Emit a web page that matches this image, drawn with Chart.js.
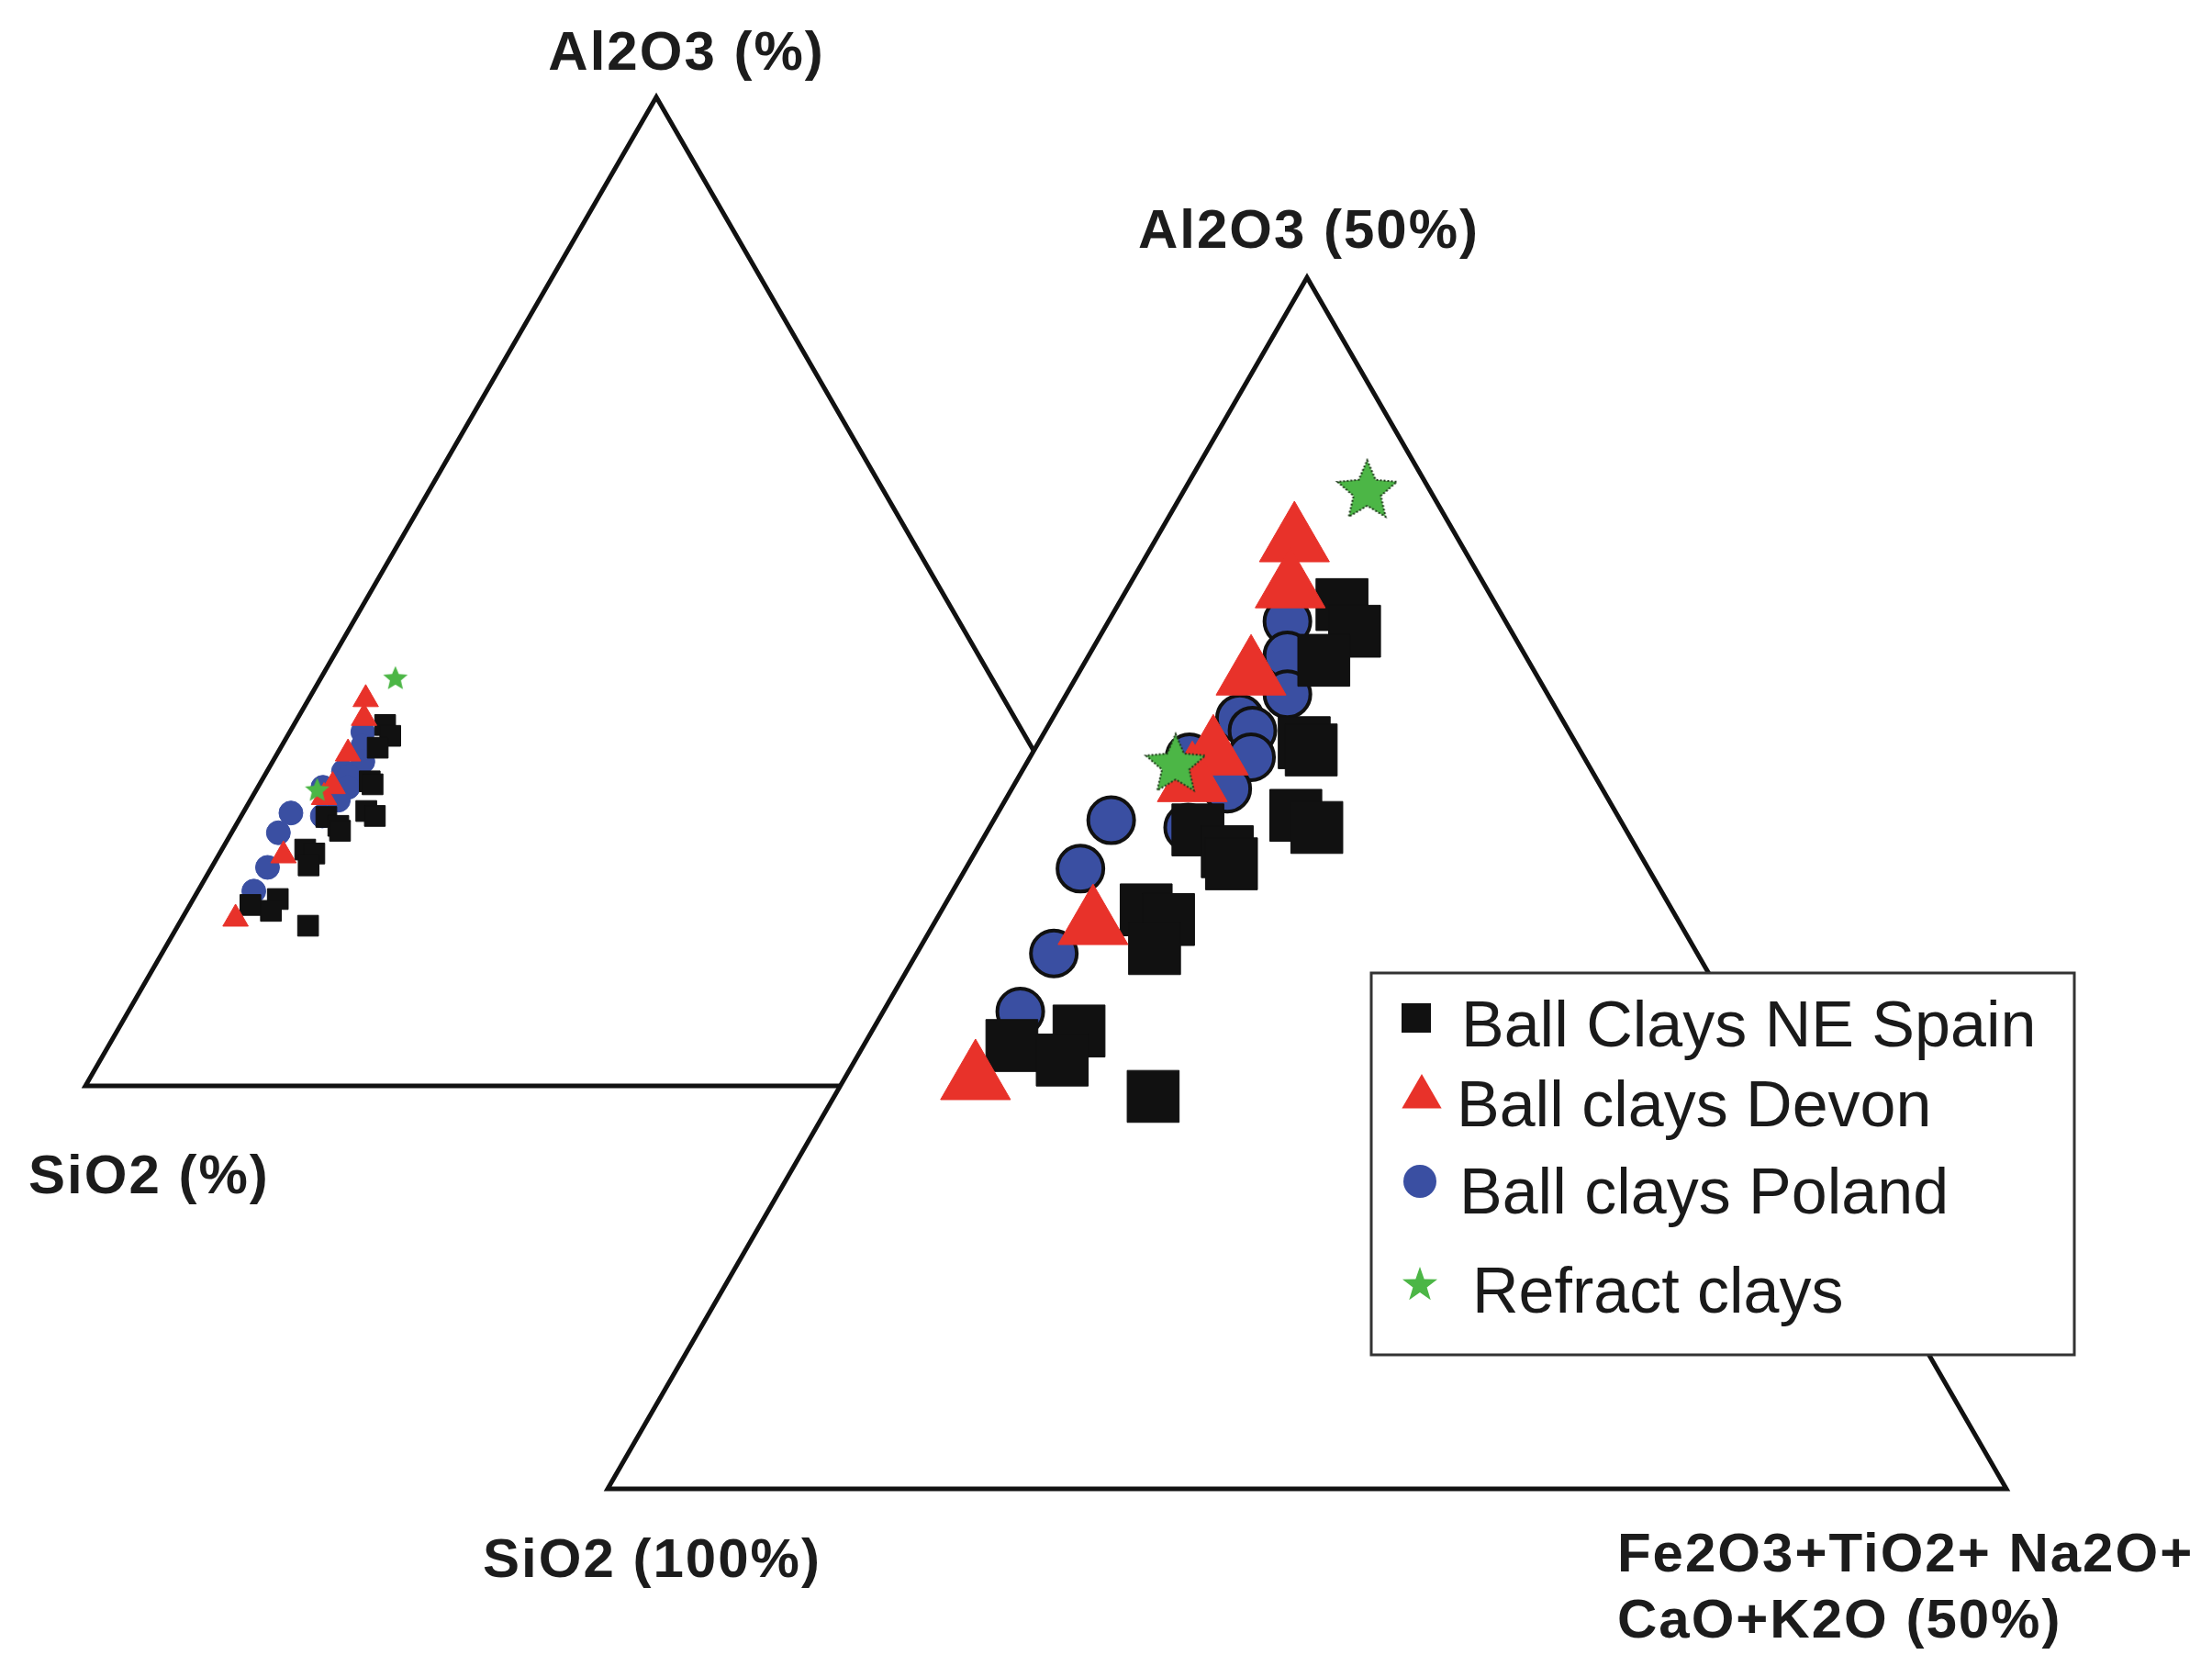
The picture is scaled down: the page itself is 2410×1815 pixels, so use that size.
<!DOCTYPE html>
<html>
<head>
<meta charset="utf-8">
<script src="https://cdn.jsdelivr.net/npm/chart.js@4.4.1/dist/chart.umd.min.js"></script>
<style>
    html, body { margin: 0; padding: 0; background: #fff; }
    #wrap { width: 2410px; height: 1815px; position: relative; }
</style>
</head>
<body>
<div id="wrap"><canvas id="chart"></canvas></div>
<script>
// composition in %: Al2O3 and the sum Fe2O3+TiO2+Na2O+CaO+K2O ("others"); SiO2 is the rest
const seriesNames = ['Ball Clays NE Spain', 'Ball clays Devon', 'Ball clays Poland', 'Refract clays'];

const spainAl2O3 = [36.5, 35.4, 34.2, 30.8, 30.5, 27.8, 27.3, 27.2, 26.3, 25.8, 23.9, 23.5, 22.3, 18.9, 18.3, 17.7, 16.2];
const spainOthers = [8.0, 9.0, 8.5, 9.5, 9.9, 10.7, 11.7, 7.5, 9.0, 9.4, 7.3, 8.3, 8.4, 7.4, 5.3, 7.4, 11.4];

const devonAl2O3 = [39.1, 37.2, 33.6, 30.3, 29.2, 23.3, 16.9];
const devonOthers = [5.0, 5.8, 6.2, 6.5, 6.3, 5.7, 4.7];

const polandAl2O3 = [35.8, 34.4, 32.8, 31.8, 31.3, 30.2, 28.9, 30.2, 27.3, 27.6, 25.6, 22.1, 19.7];
const polandOthers = [6.4, 7.1, 7.9, 6.7, 7.4, 7.9, 7.7, 5.7, 7.1, 4.2, 4.1, 4.9, 4.9];

const refractAl2O3 = [41.3, 30.0];
const refractOthers = [6.5, 5.3];

const cornerTitles = ['Al2O3 (%)', 'SiO2 (%)', 'Al2O3 (50%)', 'SiO2 (100%)', 'Fe2O3+TiO2+ Na2O+', 'CaO+K2O (50%)'];

// the two ternary frames: SiO2 corner, side length (chart units) and % at the far corners
const leftPlot = { x0: 0, y0: 0, side: 100, full: 100 };
const rightPlot = { x0: 45.74, y0: -35.29, side: 122.5, full: 50 };

const toXY = (plot, al, oth) => {
    const k = plot.side / plot.full;
    return { x: plot.x0 + k * (oth + al / 2), y: plot.y0 + k * al * Math.sqrt(3) / 2 };
};

const frameOf = (plot) => {
    const si = toXY(plot, 0, 0), al = toXY(plot, plot.full, 0), ot = toXY(plot, 0, plot.full);
    return [si, al, ot, si, al];
};

const pointsOf = (plot, als, oths) => als.map((a, i) => toXY(plot, a, oths[i]));

const makeStar = (R, fill, stroke, lw, inner) => {
    const c = document.createElement('canvas');
    const s = Math.ceil(2 * R + 2 * lw + 2);
    c.width = s; c.height = s;
    const g = c.getContext('2d');
    g.translate(s / 2, s / 2 + R * 0.1);
    g.beginPath();
    for (let i = 0; i < 10; i++) {
        const r = i % 2 === 0 ? R : R * inner;
        const ang = -Math.PI / 2 + i * Math.PI / 5;
        if (i === 0) g.moveTo(r * Math.cos(ang), r * Math.sin(ang));
        else g.lineTo(r * Math.cos(ang), r * Math.sin(ang));
    }
    g.closePath();
    g.fillStyle = fill;
    g.fill();
    if (lw > 0) {
        g.lineWidth = lw;
        g.strokeStyle = stroke;
        g.setLineDash([2, 2]);
        g.stroke();
    }
    return c;
};

const BLACK = '#111111', RED = '#e8322a', BLUE = '#3a4fa2', GREEN = '#4cb646';

const bigStar = makeStar(34, GREEN, '#1e3a1a', 2, 0.46);
const smallStar = makeStar(14, GREEN, GREEN, 0, 0.45);
const legendStar = makeStar(20, GREEN, GREEN, 0, 0.4);

const pointSet = (label, data, order, style) => Object.assign({
    label: label,
    data: data,
    order: order,
    showLine: false,
    pointBorderWidth: 1
}, style);

const datasets = [
    {
        label: 'frame left',
        data: frameOf(leftPlot),
        order: 30,
        borderColor: BLACK,
        borderWidth: 5,
        pointRadius: 0,
        fill: false,
        tension: 0
    },
    {
        label: 'frame right',
        data: frameOf(rightPlot),
        order: 20,
        borderColor: BLACK,
        borderWidth: 5,
        pointRadius: 0,
        backgroundColor: '#ffffff',
        fill: 'shape',
        tension: 0
    },
    // big triangle
    pointSet(seriesNames[3], pointsOf(rightPlot, refractAl2O3, refractOthers), 1,
        { pointStyle: bigStar, pointRadius: 34 }),
    pointSet(seriesNames[1], pointsOf(rightPlot, devonAl2O3, devonOthers), 2,
        { pointStyle: 'triangle', pointRadius: 44, pointBackgroundColor: RED, pointBorderColor: RED }),
    pointSet(seriesNames[0], pointsOf(rightPlot, spainAl2O3, spainOthers), 3,
        { pointStyle: 'rect', pointRadius: 40, pointBackgroundColor: BLACK, pointBorderColor: BLACK }),
    pointSet(seriesNames[2], pointsOf(rightPlot, polandAl2O3, polandOthers), 4,
        { pointStyle: 'circle', pointRadius: 25, pointBackgroundColor: BLUE, pointBorderColor: BLACK, pointBorderWidth: 4 }),
    // small triangle
    pointSet(seriesNames[3], pointsOf(leftPlot, refractAl2O3, refractOthers), 5,
        { pointStyle: smallStar, pointRadius: 14 }),
    pointSet(seriesNames[1], pointsOf(leftPlot, devonAl2O3, devonOthers), 6,
        { pointStyle: 'triangle', pointRadius: 16, pointBackgroundColor: RED, pointBorderColor: RED }),
    pointSet(seriesNames[0], pointsOf(leftPlot, spainAl2O3, spainOthers), 7,
        { pointStyle: 'rect', pointRadius: 16, pointBackgroundColor: BLACK, pointBorderColor: BLACK }),
    pointSet(seriesNames[2], pointsOf(leftPlot, polandAl2O3, polandOthers), 8,
        { pointStyle: 'circle', pointRadius: 13, pointBackgroundColor: BLUE, pointBorderColor: BLUE })
];

const cornerLabels = [
    { lines: [cornerTitles[0]], plot: leftPlot, al: 100, oth: 0, dx: 33, dy: -30, align: 'center' },
    { lines: [cornerTitles[1]], plot: leftPlot, al: 0, oth: 0, dx: -62, dy: 117, align: 'left' },
    { lines: [cornerTitles[2]], plot: rightPlot, al: 50, oth: 0, dx: 2, dy: -32, align: 'center' },
    { lines: [cornerTitles[3]], plot: rightPlot, al: 0, oth: 0, dx: -136, dy: 96, align: 'left' },
    { lines: [cornerTitles[4], cornerTitles[5]], plot: rightPlot, al: 0, oth: 50, dx: -424, dy: 90, align: 'left' }
];

const labelPlugin = {
    id: 'cornerLabels',
    afterDraw(chart) {
        const ctx = chart.ctx;
        const xs = chart.scales.x, ys = chart.scales.y;
        ctx.save();
        ctx.fillStyle = '#1c1c1c';
        ctx.font = "bold 60px 'Liberation Sans', Arial, sans-serif";
        ctx.letterSpacing = '2px';
        ctx.textBaseline = 'alphabetic';
        cornerLabels.forEach(l => {
            const v = toXY(l.plot, l.al, l.oth);
            const px = xs.getPixelForValue(v.x) + l.dx;
            const py = ys.getPixelForValue(v.y) + l.dy;
            ctx.textAlign = l.align;
            l.lines.forEach((t, i) => ctx.fillText(t, px, py + i * 72));
        });
        ctx.restore();
    }
};

const legendRows = [
    { mark: 'rect', mx: 1543, my: 1109, tx: 1592, ty: 1140 },
    { mark: 'triangle', mx: 1549, my: 1195, tx: 1587, ty: 1227 },
    { mark: 'circle', mx: 1547, my: 1287, tx: 1590, ty: 1322 },
    { mark: 'star', mx: 1547, my: 1398, tx: 1604, ty: 1430 }
];
const legendOrder = [0, 1, 2, 3];

const legendPlugin = {
    id: 'boxLegend',
    afterDraw(chart) {
        const ctx = chart.ctx;
        ctx.save();
        ctx.fillStyle = '#ffffff';
        ctx.fillRect(1494, 1060, 766, 416);
        ctx.strokeStyle = '#333333';
        ctx.lineWidth = 3;
        ctx.strokeRect(1494, 1060, 766, 416);

        ctx.font = "70px 'Liberation Sans', Arial, sans-serif";
        ctx.textAlign = 'left';
        ctx.textBaseline = 'alphabetic';
        legendRows.forEach((r, i) => {
            if (r.mark === 'rect') {
                ctx.fillStyle = BLACK;
                ctx.fillRect(r.mx - 16, r.my - 16, 32, 32);
            } else if (r.mark === 'triangle') {
                const rad = 25;
                ctx.fillStyle = RED;
                ctx.beginPath();
                ctx.moveTo(r.mx, r.my - rad);
                ctx.lineTo(r.mx + rad * Math.sqrt(3) / 2, r.my + rad / 2);
                ctx.lineTo(r.mx - rad * Math.sqrt(3) / 2, r.my + rad / 2);
                ctx.closePath();
                ctx.fill();
            } else if (r.mark === 'circle') {
                ctx.fillStyle = BLUE;
                ctx.beginPath();
                ctx.arc(r.mx, r.my, 18, 0, Math.PI * 2);
                ctx.fill();
            } else {
                ctx.drawImage(legendStar, r.mx - legendStar.width / 2, r.my - legendStar.height / 2);
            }
            ctx.fillStyle = '#1a1a1a';
            ctx.fillText(seriesNames[legendOrder[i]], r.tx, r.ty);
        });
        ctx.restore();
    }
};

new Chart(document.getElementById('chart'), {
    type: 'line',
    data: { datasets: datasets },
    options: {
        responsive: true,
        maintainAspectRatio: false,
        animation: false,
        events: [],
        layout: { padding: 0, autoPadding: false },
        plugins: {
            legend: { display: false },
            tooltip: { enabled: false },
            filler: { drawTime: 'beforeDatasetDraw' }
        },
        scales: {
            x: { type: 'linear', min: -7.48, max: 186.25, display: false },
            y: { type: 'linear', min: -50.8, max: 95.1, display: false }
        }
    },
    plugins: [labelPlugin, legendPlugin]
});
</script>
</body>
</html>
